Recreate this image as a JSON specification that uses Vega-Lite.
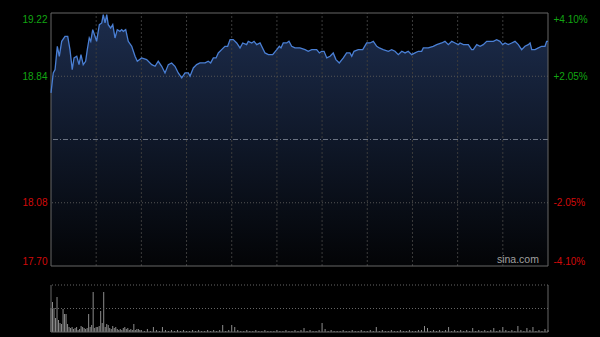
{
  "$schema": "https://vega.github.io/schema/vega-lite/v6.json",
  "width": 497,
  "height": 319,
  "autosize": "none",
  "padding": {"left": 51, "top": 13, "right": 52, "bottom": 5},
  "background": "#000000",
  "config": {
    "view": {"stroke": null},
    "axis": {"ticks": false, "domain": false, "grid": false, "title": null, "labelFont": "Liberation Sans", "labelFontSize": 10}
  },
  "datasets": {
    "price": [
      {"t":0,"p":18.74},{"t":1.5,"p":18.86},{"t":2.7,"p":18.88},{"t":4.2,"p":19.02},{"t":5.5,"p":18.96},{"t":7.1,"p":19.05},{"t":9.3,"p":19.08},{"t":11.1,"p":19.08},{"t":12.6,"p":19.0},{"t":14.1,"p":18.88},{"t":15.3,"p":18.95},{"t":17.1,"p":18.96},{"t":18.6,"p":18.91},{"t":19.9,"p":18.97},{"t":21.4,"p":18.91},{"t":23.0,"p":18.93},{"t":24.1,"p":19.0},{"t":25.4,"p":19.07},{"t":26.4,"p":19.05},{"t":27.7,"p":19.12},{"t":29.2,"p":19.08},{"t":30.3,"p":19.05},{"t":32.1,"p":19.15},{"t":33.7,"p":19.16},{"t":34.7,"p":19.21},{"t":35.9,"p":19.16},{"t":37.0,"p":19.21},{"t":38.0,"p":19.15},{"t":39.6,"p":19.13},{"t":41.0,"p":19.15},{"t":42.5,"p":19.07},{"t":44.0,"p":19.12},{"t":45.8,"p":19.11},{"t":46.9,"p":19.12},{"t":48.0,"p":19.11},{"t":49.6,"p":19.12},{"t":51.3,"p":19.05},{"t":53.6,"p":19.02},{"t":55.8,"p":18.96},{"t":57.3,"p":18.93},{"t":60.2,"p":18.95},{"t":63.5,"p":18.94},{"t":66.9,"p":18.91},{"t":69.1,"p":18.9},{"t":71.2,"p":18.93},{"t":73.5,"p":18.9},{"t":75.7,"p":18.86},{"t":77.9,"p":18.91},{"t":80.1,"p":18.92},{"t":82.3,"p":18.9},{"t":84.5,"p":18.86},{"t":86.8,"p":18.83},{"t":89.0,"p":18.86},{"t":91.2,"p":18.86},{"t":92.3,"p":18.84},{"t":94.5,"p":18.89},{"t":96.7,"p":18.91},{"t":98.9,"p":18.92},{"t":102.3,"p":18.92},{"t":104.4,"p":18.93},{"t":106.0,"p":18.92},{"t":107.8,"p":18.95},{"t":109.6,"p":18.95},{"t":111.1,"p":18.98},{"t":113.3,"p":19.0},{"t":115.5,"p":19.02},{"t":117.3,"p":19.02},{"t":118.9,"p":19.06},{"t":121.0,"p":19.06},{"t":123.3,"p":19.04},{"t":125.5,"p":19.01},{"t":127.3,"p":19.04},{"t":129.9,"p":19.03},{"t":131.0,"p":19.05},{"t":133.3,"p":19.04},{"t":134.8,"p":19.05},{"t":136.6,"p":19.03},{"t":138.8,"p":19.04},{"t":142.1,"p":18.98},{"t":144.3,"p":18.97},{"t":147.2,"p":18.97},{"t":149.9,"p":19.0},{"t":151.6,"p":19.02},{"t":152.7,"p":19.01},{"t":154.2,"p":19.04},{"t":156.5,"p":19.04},{"t":158.0,"p":19.05},{"t":159.8,"p":19.02},{"t":162.0,"p":19.01},{"t":165.3,"p":19.01},{"t":168.7,"p":19.0},{"t":170.8,"p":18.99},{"t":173.1,"p":19.0},{"t":176.4,"p":19.0},{"t":178.2,"p":18.98},{"t":179.7,"p":18.99},{"t":181.3,"p":18.99},{"t":183.1,"p":18.95},{"t":185.3,"p":18.96},{"t":187.4,"p":18.98},{"t":189.2,"p":18.94},{"t":191.4,"p":18.92},{"t":194.1,"p":18.95},{"t":196.3,"p":18.98},{"t":198.5,"p":18.98},{"t":199.7,"p":18.96},{"t":201.2,"p":18.99},{"t":204.0,"p":19.0},{"t":207.0,"p":19.0},{"t":209.6,"p":19.04},{"t":211.8,"p":19.04},{"t":214.0,"p":19.05},{"t":216.3,"p":19.02},{"t":218.0,"p":19.01},{"t":220.6,"p":19.0},{"t":224.0,"p":18.99},{"t":226.2,"p":19.0},{"t":228.4,"p":18.99},{"t":230.6,"p":18.97},{"t":232.9,"p":18.99},{"t":235.1,"p":18.98},{"t":237.2,"p":18.99},{"t":239.5,"p":18.97},{"t":241.7,"p":18.98},{"t":243.9,"p":18.99},{"t":246.1,"p":18.99},{"t":247.2,"p":19.01},{"t":250.5,"p":19.01},{"t":253.8,"p":19.02},{"t":256.1,"p":19.03},{"t":259.4,"p":19.04},{"t":261.6,"p":19.05},{"t":263.8,"p":19.03},{"t":266.1,"p":19.05},{"t":268.3,"p":19.04},{"t":270.4,"p":19.03},{"t":271.6,"p":19.04},{"t":273.8,"p":19.03},{"t":277.1,"p":19.03},{"t":279.3,"p":19.0},{"t":280.4,"p":19.0},{"t":282.7,"p":19.03},{"t":284.9,"p":19.02},{"t":287.0,"p":19.03},{"t":289.3,"p":19.05},{"t":291.5,"p":19.05},{"t":293.7,"p":19.05},{"t":295.9,"p":19.06},{"t":298.1,"p":19.05},{"t":299.9,"p":19.03},{"t":301.5,"p":19.04},{"t":303.6,"p":19.03},{"t":305.9,"p":19.04},{"t":308.1,"p":19.05},{"t":310.3,"p":19.03},{"t":312.5,"p":19.0},{"t":314.7,"p":19.02},{"t":316.9,"p":19.03},{"t":318.1,"p":19.04},{"t":319.2,"p":19.0},{"t":321.4,"p":19.0},{"t":323.6,"p":19.01},{"t":325.8,"p":19.02},{"t":328.0,"p":19.02},{"t":329.1,"p":19.05},{"t":330.0,"p":19.05}
    ],
    "vol": [
      {"t":0,"v":600000},{"t":1,"v":750000},{"t":2,"v":600000},{"t":3,"v":350000},{"t":4,"v":875000},{"t":5,"v":300000},{"t":6,"v":225000},{"t":7,"v":200000},{"t":8,"v":575000},{"t":9,"v":450000},{"t":10,"v":450000},{"t":11,"v":200000},{"t":12,"v":125000},{"t":13,"v":100000},{"t":14,"v":125000},{"t":15,"v":75000},{"t":16,"v":100000},{"t":17,"v":125000},{"t":18,"v":50000},{"t":19,"v":75000},{"t":20,"v":150000},{"t":21,"v":125000},{"t":22,"v":100000},{"t":23,"v":75000},{"t":24,"v":100000},{"t":25,"v":450000},{"t":26,"v":125000},{"t":27,"v":175000},{"t":28,"v":1000000},{"t":29,"v":100000},{"t":30,"v":125000},{"t":31,"v":125000},{"t":32,"v":150000},{"t":33,"v":525000},{"t":34,"v":225000},{"t":35,"v":1000000},{"t":36,"v":125000},{"t":37,"v":200000},{"t":38,"v":175000},{"t":39,"v":100000},{"t":40,"v":75000},{"t":41,"v":150000},{"t":42,"v":100000},{"t":43,"v":125000},{"t":44,"v":75000},{"t":45,"v":50000},{"t":46,"v":75000},{"t":47,"v":50000},{"t":48,"v":100000},{"t":49,"v":125000},{"t":50,"v":75000},{"t":51,"v":100000},{"t":52,"v":50000},{"t":53,"v":75000},{"t":54,"v":50000},{"t":55,"v":200000},{"t":56,"v":50000},{"t":57,"v":75000},{"t":58,"v":75000},{"t":59,"v":50000},
      {"t":60,"v":50000},{"t":62,"v":25000},{"t":64,"v":75000},{"t":66,"v":25000},{"t":68,"v":125000},{"t":70,"v":50000},{"t":72,"v":25000},{"t":74,"v":125000},{"t":76,"v":50000},{"t":78,"v":25000},{"t":80,"v":50000},{"t":82,"v":25000},{"t":84,"v":50000},{"t":86,"v":25000},{"t":88,"v":50000},{"t":90,"v":25000},{"t":92,"v":25000},{"t":94,"v":50000},{"t":96,"v":25000},{"t":98,"v":50000},{"t":100,"v":25000},{"t":102,"v":25000},{"t":104,"v":50000},{"t":106,"v":25000},{"t":108,"v":50000},{"t":110,"v":25000},{"t":112,"v":50000},{"t":114,"v":175000},{"t":116,"v":25000},{"t":118,"v":50000},{"t":120,"v":175000},{"t":122,"v":125000},{"t":124,"v":50000},{"t":126,"v":25000},{"t":128,"v":25000},{"t":130,"v":50000},{"t":132,"v":25000},{"t":134,"v":25000},{"t":136,"v":50000},{"t":138,"v":25000},{"t":140,"v":25000},{"t":142,"v":50000},{"t":144,"v":25000},{"t":146,"v":25000},{"t":148,"v":25000},{"t":150,"v":50000},{"t":152,"v":25000},{"t":154,"v":25000},{"t":156,"v":50000},{"t":158,"v":25000},{"t":160,"v":25000},{"t":162,"v":50000},{"t":164,"v":25000},{"t":166,"v":50000},{"t":168,"v":100000},{"t":170,"v":25000},{"t":172,"v":50000},{"t":174,"v":25000},{"t":176,"v":25000},{"t":178,"v":50000},{"t":180,"v":225000},{"t":182,"v":75000},{"t":184,"v":25000},{"t":186,"v":50000},{"t":188,"v":25000},{"t":190,"v":25000},{"t":192,"v":25000},{"t":194,"v":50000},{"t":196,"v":25000},{"t":198,"v":25000},{"t":200,"v":50000},{"t":202,"v":25000},{"t":204,"v":25000},{"t":206,"v":50000},{"t":208,"v":25000},{"t":210,"v":25000},{"t":212,"v":50000},{"t":214,"v":25000},{"t":216,"v":125000},{"t":218,"v":25000},{"t":220,"v":50000},{"t":222,"v":25000},{"t":224,"v":25000},{"t":226,"v":50000},{"t":228,"v":25000},{"t":230,"v":25000},{"t":232,"v":50000},{"t":234,"v":25000},{"t":236,"v":25000},{"t":238,"v":50000},{"t":240,"v":25000},{"t":242,"v":25000},{"t":244,"v":50000},{"t":246,"v":50000},{"t":248,"v":150000},{"t":250,"v":100000},{"t":252,"v":25000},{"t":254,"v":50000},{"t":256,"v":25000},{"t":258,"v":50000},{"t":260,"v":25000},{"t":262,"v":50000},{"t":264,"v":125000},{"t":266,"v":25000},{"t":268,"v":50000},{"t":270,"v":25000},{"t":272,"v":50000},{"t":274,"v":25000},{"t":276,"v":50000},{"t":278,"v":25000},{"t":280,"v":100000},{"t":282,"v":25000},{"t":284,"v":50000},{"t":286,"v":25000},{"t":288,"v":50000},{"t":290,"v":25000},{"t":292,"v":50000},{"t":294,"v":100000},{"t":296,"v":25000},{"t":298,"v":50000},{"t":300,"v":125000},{"t":302,"v":50000},{"t":304,"v":25000},{"t":306,"v":50000},{"t":308,"v":25000},{"t":310,"v":150000},{"t":312,"v":50000},{"t":314,"v":25000},{"t":316,"v":100000},{"t":318,"v":50000},{"t":320,"v":125000},{"t":322,"v":25000},{"t":324,"v":50000},{"t":326,"v":25000},{"t":328,"v":75000},{"t":330,"v":50000}
    ],
    "grid": [{"t":30},{"t":60},{"t":90},{"t":120},{"t":150},{"t":180},{"t":210},{"t":240},{"t":270},{"t":300}]
  },
  "layer": [
    {
      "layer": [
        {
          "data": {"name": "price"},
          "mark": {"type": "area", "interpolate": "linear", "color": {"gradient": "linear", "x1": 0, "y1": 0, "x2": 0, "y2": 1, "stops": [{"offset": 0, "color": "#1c2c4c"}, {"offset": 1, "color": "#030406"}]}},
          "encoding": {
            "x": {"field": "t", "type": "quantitative", "scale": {"domain": [0, 330], "nice": false, "zero": false}, "axis": null},
            "y": {"field": "p", "type": "quantitative", "title": null, "scale": {"domain": [17.3035, 19.22], "nice": false, "zero": false},
              "axis": {"orient": "left", "title": null, "values": [19.22, 18.84, 18.08, 17.7], "format": ".2f", "labelPadding": 4,
                "labelColor": {"condition": {"test": "datum.value > 18.46", "value": "#12a512"}, "value": "#d20a0a"},
                "labelOffset": {"condition": {"test": "datum.value > 19.2", "value": 6}, "value": 0},
                "labelBaseline": {"condition": {"test": "datum.value < 17.8", "value": "bottom"}, "value": "middle"}}},
            "y2": {"datum": 17.7}
          }
        },
        {
          "data": {"name": "grid"},
          "mark": {"type": "rule", "color": "#3c3c3c", "strokeWidth": 1, "strokeDash": [2, 2]},
          "encoding": {"x": {"field": "t", "type": "quantitative"}, "y": {"datum": 17.7}, "y2": {"datum": 19.22}}
        },
        {
          "data": {"values": [{}]},
          "mark": {"type": "rule", "color": "#555555", "strokeWidth": 1, "strokeDash": [1, 2]},
          "encoding": {"y": {"datum": 18.84}}
        },
        {
          "data": {"values": [{}]},
          "mark": {"type": "rule", "color": "#555555", "strokeWidth": 1, "strokeDash": [1, 2]},
          "encoding": {"y": {"datum": 18.08}}
        },
        {
          "data": {"values": [{}]},
          "mark": {"type": "rule", "color": "#6c7484", "strokeWidth": 1, "strokeDash": [5, 2, 1, 2]},
          "encoding": {"y": {"datum": 18.46}}
        },
        {
          "data": {"values": [{}]},
          "mark": {"type": "rule", "color": "#666666", "strokeWidth": 1},
          "encoding": {"y": {"datum": 19.22}}
        },
        {
          "data": {"values": [{}]},
          "mark": {"type": "rule", "color": "#666666", "strokeWidth": 1},
          "encoding": {"y": {"datum": 17.7}}
        },
        {
          "data": {"values": [{}]},
          "mark": {"type": "rule", "color": "#666666", "strokeWidth": 1},
          "encoding": {"x": {"datum": 0}, "y": {"datum": 17.7}, "y2": {"datum": 19.22}}
        },
        {
          "data": {"values": [{}]},
          "mark": {"type": "rule", "color": "#666666", "strokeWidth": 1},
          "encoding": {"x": {"datum": 330}, "y": {"datum": 17.7}, "y2": {"datum": 19.22}}
        },
        {
          "data": {"values": [{}]},
          "mark": {"type": "text", "text": "sina.com", "font": "Liberation Sans", "fontSize": 10.5, "color": "#a0a0a0", "align": "center", "baseline": "bottom", "dy": -1},
          "encoding": {"x": {"datum": 310}, "y": {"datum": 17.7}}
        }
      ]
    },
    {
      "data": {"name": "price"},
      "mark": {"type": "line", "color": "#4a7fd4", "strokeWidth": 1.3, "interpolate": "linear"},
      "encoding": {
        "x": {"field": "t", "type": "quantitative"},
        "y": {"field": "p", "type": "quantitative", "title": null, "scale": {"domain": [17.3035, 19.22], "nice": false, "zero": false},
          "axis": {"orient": "right", "title": null, "values": [19.22, 18.84, 18.08, 17.7], "labelPadding": 5,
            "labelExpr": "datum.value > 19.2 ? '+4.10%' : datum.value > 18.8 ? '+2.05%' : datum.value > 18 ? '-2.05%' : '-4.10%'",
            "labelColor": {"condition": {"test": "datum.value > 18.46", "value": "#12a512"}, "value": "#d20a0a"},
            "labelOffset": {"condition": {"test": "datum.value > 19.2", "value": 6}, "value": 0},
            "labelBaseline": {"condition": {"test": "datum.value < 17.8", "value": "bottom"}, "value": "middle"}}}
      }
    },
    {
      "layer": [
        {
          "data": {"name": "vol"},
          "mark": {"type": "rule", "color": "#8c8c8c", "strokeWidth": 1},
          "encoding": {
            "x": {"field": "t", "type": "quantitative"},
            "y": {"field": "v", "type": "quantitative", "title": null, "scale": {"domain": [0, 7975000], "nice": false, "zero": true}, "axis": null},
            "y2": {"datum": 0}
          }
        },
        {
          "data": {"values": [{}]},
          "mark": {"type": "rule", "color": "#666666", "strokeWidth": 1, "strokeDash": [1, 2]},
          "encoding": {"y": {"datum": 1175000}}
        },
        {
          "data": {"values": [{}]},
          "mark": {"type": "rule", "color": "#666666", "strokeWidth": 1, "strokeDash": [1, 2]},
          "encoding": {"y": {"datum": 587500}}
        },
        {
          "data": {"values": [{}]},
          "mark": {"type": "rule", "color": "#666666", "strokeWidth": 1},
          "encoding": {"y": {"datum": 0}}
        },
        {
          "data": {"values": [{}]},
          "mark": {"type": "rule", "color": "#666666", "strokeWidth": 1},
          "encoding": {"x": {"datum": 0}, "y": {"datum": 0}, "y2": {"datum": 1175000}}
        },
        {
          "data": {"values": [{}]},
          "mark": {"type": "rule", "color": "#666666", "strokeWidth": 1},
          "encoding": {"x": {"datum": 330}, "y": {"datum": 0}, "y2": {"datum": 1175000}}
        }
      ]
    }
  ],
  "resolve": {"scale": {"y": "independent"}, "axis": {"y": "independent"}}
}
